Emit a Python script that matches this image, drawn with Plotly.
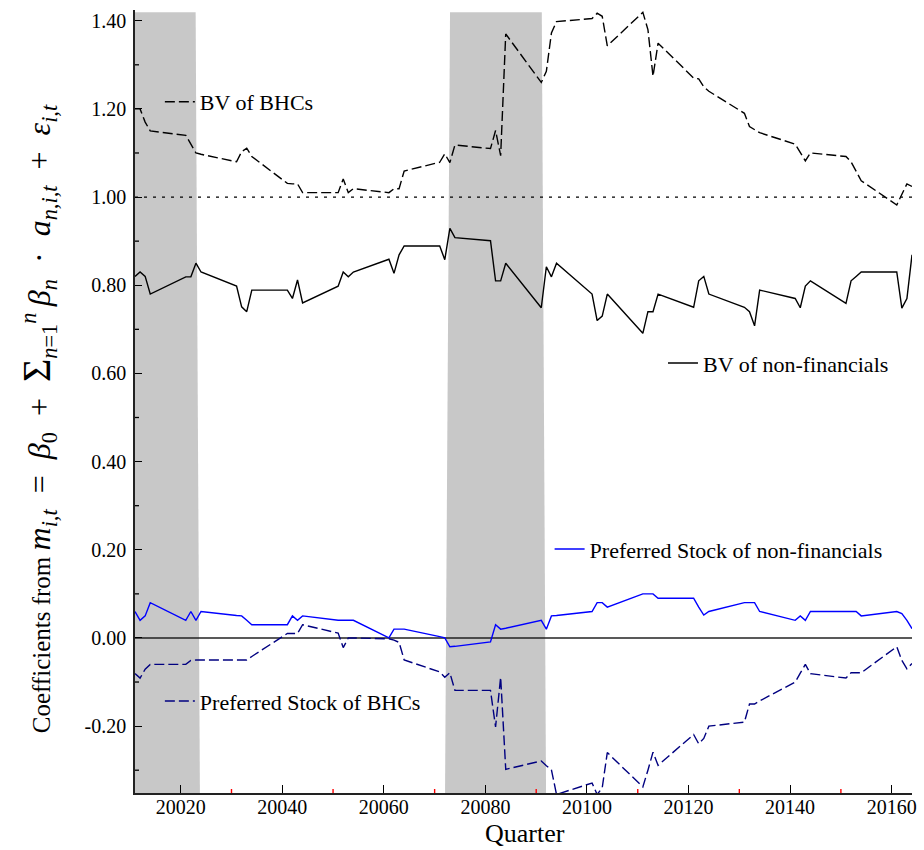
import plotly.graph_objects as go

# ---------------- data ----------------
quarters = [20011, 20012, 20013, 20014, 20021, 20022, 20023, 20024,
            20031, 20032, 20033, 20034, 20041, 20042, 20043, 20044,
            20051, 20052, 20053, 20054, 20061, 20062, 20063, 20064,
            20071, 20072, 20073, 20074, 20081, 20082, 20083, 20084,
            20091, 20092, 20093, 20094, 20101, 20102, 20103, 20104,
            20111, 20112, 20113, 20114, 20121, 20122, 20123, 20124,
            20131, 20132, 20133, 20134, 20141, 20142, 20143, 20144,
            20151, 20152, 20153, 20154, 20161, 20162, 20163, 20164]

bv_bhc = [1.20, 1.20, 1.17, 1.15, 1.14, 1.12, 1.10, 1.097,
          1.08, 1.103, 1.111, 1.092, 1.031, 1.03, 1.03, 1.01,
          1.01, 1.041, 1.01, 1.019, 1.01, 1.019, 1.019, 1.059,
          1.079, 1.098, 1.078, 1.118, 1.110, 1.151, 1.094, 1.370,
          1.26, 1.285, 1.372, 1.398, 1.405, 1.417, 1.41, 1.343,
          1.419, 1.38, 1.274, 1.349, 1.27, 1.268, 1.25, 1.24,
          1.19, 1.16, 1.152, 1.146, 1.12, 1.10, 1.082, 1.10,
          1.092, 1.08, 1.057, 1.037, 0.982, 1.005, 1.03, 1.024]

bv_nonfin = [0.82, 0.83, 0.82, 0.78, 0.819, 0.819, 0.85, 0.83,
             0.798, 0.751, 0.74, 0.789, 0.789, 0.77, 0.812, 0.76,
             0.798, 0.83, 0.819, 0.83, 0.859, 0.827, 0.869, 0.889,
             0.889, 0.858, 0.929, 0.908, 0.901, 0.81, 0.81, 0.85,
             0.749, 0.842, 0.819, 0.85, 0.78, 0.72, 0.73, 0.78,
             0.691, 0.74, 0.74, 0.78, 0.75, 0.81, 0.82, 0.78,
             0.75, 0.74, 0.708, 0.789, 0.77, 0.749, 0.798, 0.81,
             0.759, 0.81, 0.82, 0.83, 0.83, 0.748, 0.77, 0.869]

pref_nonfin = [0.06, 0.04, 0.05, 0.08, 0.04, 0.06, 0.04, 0.06,
               0.051, 0.05, 0.04, 0.03, 0.03, 0.05, 0.04, 0.05,
               0.04, 0.04, 0.04, 0.04, 0.0, 0.02, 0.02, 0.02,
               0.003, 0.0, -0.02, -0.019, -0.009, 0.03, 0.02, 0.022,
               0.04, 0.02, 0.05, 0.051, 0.06, 0.08, 0.08, 0.07,
               0.10, 0.10, 0.10, 0.09, 0.09, 0.07, 0.052, 0.06,
               0.08, 0.08, 0.08, 0.06, 0.04, 0.05, 0.04, 0.06,
               0.06, 0.06, 0.06, 0.05, 0.06, 0.055, 0.04, 0.021]

pref_bhc = [-0.081, -0.091, -0.071, -0.06, -0.06, -0.051, -0.05, -0.05,
            -0.05, -0.05, -0.05, -0.042, 0.01, 0.01, 0.01, 0.03,
            0.011, -0.022, 0.0, 0.0, -0.002, -0.005, -0.01, -0.05,
            -0.077, -0.089, -0.079, -0.119, -0.119, -0.202, -0.089, -0.298,
            -0.279, -0.29, -0.299, -0.355, -0.329, -0.355, -0.34, -0.26,
            -0.338, -0.30, -0.259, -0.289, -0.219, -0.24, -0.228, -0.20,
            -0.191, -0.15, -0.15, -0.143, -0.10, -0.08, -0.06, -0.081,
            -0.091, -0.079, -0.079, -0.079, -0.02, -0.051, -0.07, -0.058]

x_ticks = [20020, 20040, 20060, 20080, 20100, 20120, 20140, 20160]
x_tick_labels = ["20020", "20040", "20060", "20080", "20100", "20120", "20140", "20160"]
x_minor_ticks = [20030, 20050, 20070, 20090, 20110, 20130, 20150]
y_ticks = [-0.2, 0.0, 0.2, 0.4, 0.6, 0.8, 1.0, 1.2, 1.4]
y_tick_labels = ["-0.20", "0.00", "0.20", "0.40", "0.60", "0.80", "1.00", "1.20", "1.40"]
y_minor_ticks = [-0.3, -0.1, 0.1, 0.3, 0.5, 0.7, 0.9, 1.1, 1.3]

# recession bands (left/right edge at top, left/right edge at bottom)
recession_top = [(20011, 20022.94), (20073.03, 20091.1)]
recession_bottom = [(20011, 20023.78), (20072.05, 20091.94)]
recession_top_y = 1.419

x_range = [20011, 20164]
y_range = [-0.3517, 1.4243]

FONT = "Liberation Serif"

fig = go.Figure()

# reference lines
fig.add_trace(go.Scatter(x=x_range, y=[1.0, 1.0], mode="lines",
                         line=dict(color="black", width=1.3, dash="3px,6px"),
                         showlegend=False, hoverinfo="skip"))
fig.add_trace(go.Scatter(x=x_range, y=[0.0, 0.0], mode="lines",
                         line=dict(color="#222222", width=1.5),
                         showlegend=False, hoverinfo="skip"))

fig.add_trace(go.Scatter(x=quarters, y=bv_bhc, mode="lines", name="BV of BHCs",
                         line=dict(color="black", width=1.4, dash="10px,4px"),
                         legend="legend"))
fig.add_trace(go.Scatter(x=quarters, y=bv_nonfin, mode="lines", name="BV of non-financials",
                         line=dict(color="black", width=1.4),
                         legend="legend2"))
fig.add_trace(go.Scatter(x=quarters, y=pref_nonfin, mode="lines",
                         name="Preferred Stock of non-financials",
                         line=dict(color="#0000ff", width=1.4),
                         legend="legend3"))
fig.add_trace(go.Scatter(x=quarters, y=pref_bhc, mode="lines",
                         name="Preferred Stock of BHCs",
                         line=dict(color="#000080", width=1.4, dash="10px,4px"),
                         legend="legend4"))

shapes = []
for (lt, rt), (lb, rb) in zip(recession_top, recession_bottom):
    path = (f"M {lt},{recession_top_y} L {rt},{recession_top_y} "
            f"L {rb},{y_range[0]} L {lb},{y_range[0]} Z")
    shapes.append(dict(type="path", path=path, xref="x", yref="y",
                       fillcolor="#c8c8c8", line=dict(width=0), layer="below"))

# red minor ticks on the x axis (pointing inward)
for xv in x_minor_ticks:
    shapes.append(dict(type="line", xref="x", yref="paper", ysizemode="pixel",
                       yanchor=0, x0=xv, x1=xv, y0=0, y1=4,
                       line=dict(color="red", width=1.4), layer="above"))
# black minor ticks on the y axis
for yv in y_minor_ticks:
    shapes.append(dict(type="line", xref="paper", yref="y", xsizemode="pixel",
                       xanchor=0, x0=0, x1=4, y0=yv, y1=yv,
                       line=dict(color="black", width=1.3), layer="above"))

def leg(x, y):
    return dict(x=x, y=y, xanchor="left", yanchor="middle",
                bgcolor="rgba(0,0,0,0)", borderwidth=0,
                font=dict(family=FONT, size=22, color="black"))

y_title = ("Coefficients from <span style='font-size:32px'>"
           "<i>m</i><sub><i>i,t</i></sub>\u2002=\u2002<i>β</i><sub>0</sub>\u2002+\u2002"
           "<span style='font-size:40px'>Σ</span><sub><i>n</i>=1</sub><sup><i>n</i></sup>\u2009"
           "<i>β</i><sub><i>n</i></sub>\u2002·\u2002<i>a</i><sub><i>n,i,t</i></sub>\u2002+\u2002"
           "<i>ε</i><sub><i>i,t</i></sub></span>")

fig.update_layout(
    width=924, height=850,
    margin=dict(l=135, r=7.5, t=10, b=57.3),
    paper_bgcolor="white", plot_bgcolor="white",
    font=dict(family=FONT, size=20, color="black"),
    shapes=shapes,
    legend=leg(0.0320, 0.8825),
    legend2=leg(0.6795, 0.5490),
    legend3=leg(0.5336, 0.3114),
    legend4=leg(0.0320, 0.1172),
    xaxis=dict(range=x_range, tickmode="array", tickvals=x_ticks, ticktext=x_tick_labels,
               ticks="inside", ticklen=8, tickwidth=1.3, tickcolor="black",
               showline=True, linecolor="#222222", linewidth=1.6,
               showgrid=False, zeroline=False, ticklabelstandoff=-5,
               tickfont=dict(family=FONT, size=20, color="black")),
    yaxis=dict(range=y_range, tickmode="array", tickvals=y_ticks, ticktext=y_tick_labels,
               ticks="inside", ticklen=7, tickwidth=1.3, tickcolor="black",
               showline=True, linecolor="#222222", linewidth=1.6,
               showgrid=False, zeroline=False, ticklabelstandoff=3,
               tickfont=dict(family=FONT, size=20, color="black")),
    annotations=[
        dict(text="Quarter", xref="paper", yref="paper", x=0.5016, y=-0.0515,
             xanchor="center", yanchor="middle", showarrow=False,
             font=dict(family=FONT, size=26, color="black")),
        dict(text=y_title,
             xref="paper", yref="paper", x=-0.1254, y=0.478, textangle=-90,
             xanchor="center", yanchor="middle", showarrow=False,
             font=dict(family=FONT, size=25, color="black")),
    ],
)

fig.write_html("out.html")
